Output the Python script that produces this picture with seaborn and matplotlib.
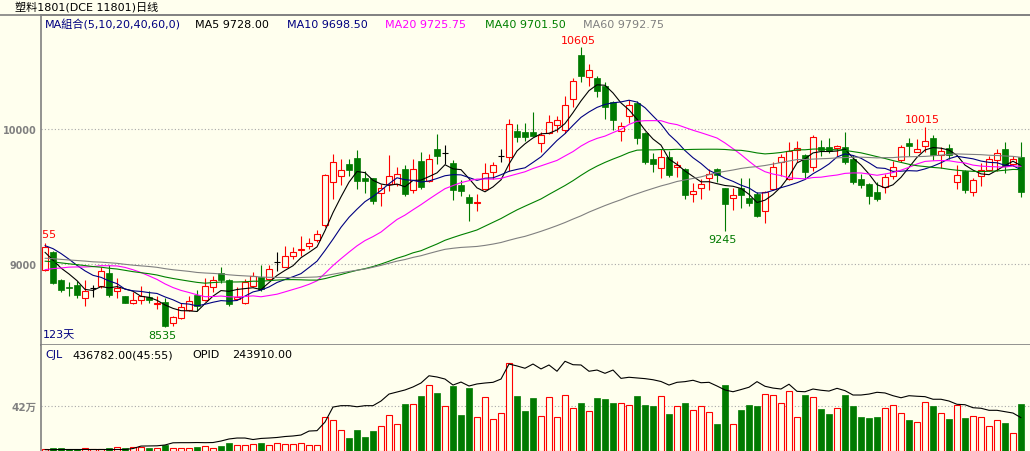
import numpy as np
import pandas as pd
import matplotlib
matplotlib.use("Agg")
import matplotlib.pyplot as plt
from matplotlib.lines import Line2D
import seaborn as sns

# ---------------- data ----------------
opens = [8956, 9086, 8882, 8827, 8845, 8748, 8820, 8835, 8931, 8800,
         8761, 8714, 8731, 8753, 8703, 8716, 8563, 8598, 8662, 8770,
         8733, 8827, 8933, 8882, 8741, 8709, 8835, 8901, 8889, 9017,
         8980, 9057, 9106, 9131, 9178, 9289, 9605, 9654, 9738, 9783,
         9637, 9634, 9523, 9592, 9592, 9703, 9545, 9763, 9615, 9852,
         9820, 9748, 9585, 9499, 9449, 9555, 9679, 9802, 9790, 9983,
         9980, 9980, 9894, 9968, 10032, 9995, 10222, 10548, 10383, 10378,
         10316, 10198, 9988, 10094, 10193, 9971, 9778, 9709, 9793, 9716,
         9704, 9516, 9566, 9637, 9704, 9561, 9487, 9561, 9489, 9516,
         9391, 9556, 9758, 9629, 9847, 9807, 9716, 9864, 9864, 9857,
         9864, 9778, 9629, 9592, 9531, 9568, 9654, 9770, 9896, 9832,
         9876, 9931, 9807, 9857, 9605, 9691, 9531, 9649, 9699, 9773,
         9852, 9741, 9790]
closes = [9123, 8857, 8810, 8820, 8773, 8798, 8820, 8951, 8773, 8820,
          8714, 8733, 8763, 8736, 8709, 8543, 8605, 8679, 8728, 8686,
          8835, 8882, 8884, 8701, 8753, 8869, 8914, 8815, 8960, 9017,
          9057, 9086, 9113, 9155, 9222, 9659, 9753, 9696, 9699, 9617,
          9617, 9469, 9560, 9649, 9664, 9518, 9703, 9573, 9778, 9802,
          9820, 9550, 9543, 9449, 9457, 9674, 9733, 9802, 10034, 9943,
          9938, 9950, 9955, 10054, 10064, 10178, 10353, 10390, 10435, 10279,
          10161, 10069, 10020, 10178, 9931, 9758, 9741, 9793, 9662, 9734,
          9514, 9539, 9593, 9667, 9662, 9445, 9511, 9511, 9452, 9358,
          9531, 9719, 9795, 9839, 9857, 9684, 9938, 9847, 9839, 9876,
          9758, 9605, 9587, 9506, 9481, 9642, 9716, 9864, 9876, 9852,
          9913, 9807, 9839, 9807, 9659, 9550, 9622, 9699, 9778, 9822,
          9728, 9778, 9534]
highs = [9155, 9099, 8889, 8864, 8877, 8882, 8847, 8975, 8995, 8894,
         8766, 8795, 8835, 8798, 8765, 8748, 8617, 8711, 8761, 8807,
         8899, 8909, 8975, 8889, 8832, 8889, 8938, 8993, 8995, 9086,
         9131, 9123, 9210, 9190, 9252, 9665, 9815, 9778, 9778, 9847,
         9691, 9640, 9592, 9807, 9716, 9733, 9778, 9832, 9815, 9963,
         9881, 9770, 9622, 9518, 9518, 9748, 9753, 9852, 10074, 10037,
         10042, 10123, 9975, 10103, 10099, 10247, 10376, 10605, 10482, 10395,
         10346, 10210, 10050, 10215, 10210, 9976, 9823, 9852, 9840, 9766,
         9709, 9600, 9630, 9704, 9709, 9565, 9561, 9635, 9635, 9531,
         9544, 9758, 9815, 9901, 9913, 9812, 9955, 9921, 9931, 9881,
         9980, 9807, 9666, 9597, 9605, 9666, 9765, 9881, 9931, 9926,
         10015, 9955, 9864, 9889, 9733, 9696, 9634, 9748, 9797, 9852,
         9906, 9797, 9901]
lows = [8948, 8852, 8795, 8765, 8748, 8691, 8753, 8820, 8753, 8746,
        8709, 8701, 8704, 8709, 8667, 8535, 8543, 8593, 8654, 8654,
        8728, 8790, 8859, 8691, 8736, 8704, 8827, 8803, 8884, 8951,
        8975, 9037, 9062, 9111, 9160, 9271, 9481, 9585, 9654, 9555,
        9526, 9444, 9427, 9543, 9575, 9501, 9526, 9555, 9605, 9741,
        9741, 9476, 9506, 9321, 9395, 9550, 9629, 9753, 9691, 9906,
        9913, 9945, 9827, 9963, 9975, 9971, 10161, 10346, 10321, 10235,
        10074, 9995, 9914, 10045, 9889, 9741, 9684, 9635, 9642, 9642,
        9482, 9462, 9482, 9551, 9610, 9245, 9400, 9418, 9427, 9351,
        9302, 9551, 9655, 9625, 9753, 9629, 9691, 9802, 9822, 9802,
        9741, 9592, 9560, 9444, 9469, 9523, 9629, 9753, 9797, 9827,
        9827, 9773, 9708, 9778, 9555, 9526, 9501, 9575, 9691, 9691,
        9674, 9728, 9494]
# closes before the visible window (estimated from where the MA lines start)
prior_closes = [9050, 9120, 9080, 9010, 9060, 9140, 9100, 9030, 9090, 9150,
                9110, 9070, 9020, 9080, 9130, 9090, 9040, 9100, 9160, 9080,
                9060, 9120, 9090, 9030, 9070, 9110, 9140, 9080, 9050, 9100,
                9130, 9070, 9040, 9090, 9120, 9060, 9080, 9110, 9050, 9080,
                8700, 8720, 8690, 8750, 8800, 8760, 8820, 8780, 8850, 8930,
                9080, 9170, 9240, 9230, 9205, 9150, 9100, 9040, 9020]
volumes = [19000, 28000, 25000, 19000, 19000, 28000, 16000, 22000, 25000, 35000,
           28000, 37000, 35000, 28000, 25000, 56000, 25000, 25000, 25000, 37000,
           50000, 28000, 47000, 72000, 53000, 53000, 63000, 72000, 53000, 77000,
           63000, 63000, 72000, 53000, 53000, 315000, 289000, 196000, 121000, 196000,
           131000, 187000, 231000, 333000, 249000, 439000, 436000, 513000, 613000, 541000,
           417000, 607000, 336000, 588000, 315000, 501000, 296000, 355000, 819000, 513000,
           373000, 495000, 324000, 501000, 315000, 520000, 399000, 448000, 373000, 495000,
           485000, 448000, 445000, 427000, 513000, 429000, 420000, 511000, 345000, 417000,
           448000, 380000, 417000, 361000, 252000, 616000, 249000, 383000, 429000, 420000,
           529000, 520000, 445000, 557000, 315000, 523000, 501000, 392000, 345000, 399000,
           523000, 420000, 317000, 308000, 317000, 399000, 427000, 352000, 289000, 268000,
           455000, 420000, 352000, 299000, 427000, 308000, 324000, 315000, 231000, 287000,
           261000, 165000, 436782]
open_interest = [10000, 10000, 11000, 11000, 11000, 11000, 11000, 11000, 11000, 11000,
                 11000, 18000, 36000, 37000, 38000, 44000, 60000, 61000, 61000, 62000,
                 61000, 62000, 73000, 88000, 95000, 95000, 84000, 92000, 95000, 99000,
                 106000, 110000, 117000, 146000, 149000, 212000, 322000, 332000, 332000, 324000,
                 332000, 332000, 366000, 417000, 432000, 447000, 469000, 498000, 551000, 542000,
                 527000, 483000, 505000, 476000, 491000, 498000, 503000, 527000, 637000, 623000,
                 606000, 637000, 601000, 630000, 584000, 657000, 632000, 630000, 584000, 593000,
                 569000, 593000, 532000, 540000, 535000, 530000, 522000, 509000, 483000, 503000,
                 508000, 518000, 500000, 503000, 476000, 447000, 434000, 450000, 467000, 508000,
                 474000, 461000, 454000, 489000, 437000, 434000, 454000, 445000, 439000, 459000,
                 442000, 410000, 410000, 417000, 430000, 425000, 405000, 390000, 405000, 401000,
                 398000, 379000, 379000, 366000, 342000, 339000, 317000, 313000, 298000, 298000,
                 288000, 278000, 243910]
ma_periods = [5, 10, 20, 40, 60]
ma_last_values = [9728.00, 9698.50, 9725.75, 9701.50, 9792.75]
price_ticks = [9000, 10000]
price_tick_labels = ["9000", "10000"]
vol_ticks = [420000]
vol_tick_labels = ["42万"]
title = "塑料1801(DCE 11801)日线"
vol_ratio = "(45:55)"

# ---------------- style ----------------
sns.set_style("white")
FONTS = ["DejaVu Sans", "Noto Sans CJK SC"]
plt.rcParams["font.family"] = FONTS

W, H = 1030, 452
BG = "#FFFFEE"
RED = "#FF0000"
GREEN = "#007A00"
NAVY = "#000080"
MAG = "#FF00FF"
GRAY = "#808080"
ma_colors = ["#000000", NAVY, MAG, "#008000", GRAY]

n = len(closes)
idx = np.arange(n)
o = np.array(opens, float)
c = np.array(closes, float)
h = np.array(highs, float)
l = np.array(lows, float)
vol = np.array(volumes, float)
oi = np.array(open_interest, float)

full = pd.Series(list(prior_closes) + list(closes), dtype=float)
ma = pd.DataFrame({"idx": idx})
for p in ma_periods:
    ma[f"MA{p}"] = full.rolling(p).mean().iloc[-n:].to_numpy()

fig = plt.figure(figsize=(W / 100, H / 100), dpi=100, facecolor=BG)
ax = fig.add_axes([41 / W, 106 / H, 989 / W, 330 / H], facecolor=BG)
axv = fig.add_axes([41 / W, 0, 989 / W, 106 / H], facecolor=BG)

xlim = (-0.5, n + 0.125)
BW = 0.8
LW = 0.8

# ---------------- candles ----------------
up = c > o
down = c < o
flat = c == o
ax.vlines(idx[up], l[up], h[up], color=RED, lw=LW, zorder=2)
ax.vlines(idx[down], l[down], h[down], color=GREEN, lw=LW, zorder=2)
ax.vlines(idx[flat], l[flat], h[flat], color="black", lw=LW, zorder=2)
ax.bar(idx[up], c[up] - o[up], bottom=o[up], width=BW, facecolor=BG,
       edgecolor=RED, linewidth=LW, zorder=3)
ax.bar(idx[down], o[down] - c[down], bottom=c[down], width=BW, facecolor=GREEN,
       edgecolor=GREEN, linewidth=0.5, zorder=3)
ax.hlines(o[flat], idx[flat] - BW / 2, idx[flat] + BW / 2, color="black", lw=LW, zorder=3)

for p, col in zip(ma_periods, ma_colors):
    sns.lineplot(data=ma, x="idx", y=f"MA{p}", ax=ax, color=col, lw=0.8,
                 zorder=4, legend=False)

ax.set_xlim(*xlim)
ax.set_ylim(8400, 10844)
ax.set_xticks([])
ax.set_yticks(price_ticks)
ax.set_yticklabels(price_tick_labels, color=GRAY, fontsize=7, fontweight="bold")
ax.tick_params(axis="y", length=0, pad=3)
ax.grid(axis="y", color="#A8A8A8", linestyle=(0, (1, 2)), lw=0.8)
ax.set_xlabel("")
ax.set_ylabel("")
for s in ["left", "top", "bottom"]:
    ax.spines[s].set_color(GRAY)
    ax.spines[s].set_linewidth(1.2)
ax.spines["right"].set_visible(False)

# extreme labels
def lab(i, hi, dy):
    val = h[i] if hi else l[i]
    ax.annotate(f"{val:.0f}", xy=(i, val), xytext=(-3, dy), textcoords="offset pixels",
                ha="center", va="bottom" if hi else "top", color=RED if hi else GREEN,
                fontsize=8, clip_on=True, zorder=6)

lab(int(np.argmax(h)), True, 2)
lab(int(np.argmin(l)), False, -3)
lab(75 + int(np.argmin(l[75:100])), False, -3)
lab(95 + int(np.argmax(h[95:])), True, 3)
lab(int(np.argmax(h[:10])), True, 4)

ax.text(2 / 989, 11 / 330, f"{n}天", transform=ax.transAxes, color=NAVY,
        fontsize=8, va="center", ha="left", family=FONTS)

# ---------------- volume panel ----------------
vup = c >= o
axv.bar(idx[vup], vol[vup], width=BW, facecolor=BG, edgecolor=RED, linewidth=LW, zorder=2)
axv.bar(idx[~vup], vol[~vup], width=BW, facecolor=GREEN, edgecolor=GREEN,
        linewidth=0.5, zorder=2)
axv.set_xlim(*xlim)
axv.set_ylim(0, 106 * 9333)
axv.set_xticks([])
axv.set_yticks(vol_ticks)
axv.set_yticklabels(vol_tick_labels, color=GRAY, fontsize=7.5, fontweight="bold",
                    family=FONTS)
axv.tick_params(axis="y", length=0, pad=3)
axv.grid(axis="y", color="#A8A8A8", linestyle=(0, (1, 2)), lw=0.8)
for s in ["top", "bottom", "right"]:
    axv.spines[s].set_visible(False)
axv.spines["left"].set_color(GRAY)
axv.spines["left"].set_linewidth(1.2)

axo = axv.twinx()
sns.lineplot(x=idx, y=oi, ax=axo, color="black", lw=0.8, zorder=5)
axo.set_xlim(*xlim)
axo.set_ylim(0, 106 * 7324)
axo.axis("off")

# ---------------- header texts ----------------
def ft(x, y, s, col, **kw):
    fig.text(x / W, 1 - y / H, s, color=col, fontsize=8, va="center", ha="left",
             family=FONTS, **kw)

fig.add_artist(Line2D([0, 1], [1 - 16 / H, 1 - 16 / H], color=GRAY, lw=1.2,
                      transform=fig.transFigure))
ft(15, 7, title, "black")
ft(45, 25, "MA組合(" + ",".join(str(p) for p in ma_periods) + ",0)", NAVY)
leg_x = [195, 287, 385, 485, 583]
for p, v, col, x in zip(ma_periods, ma_last_values, ma_colors, leg_x):
    ft(x, 25, f"MA{p} {v:.2f}", col)

ft(45, 355, "CJL", NAVY)
ft(72, 355, f"{vol[-1]:.2f}{vol_ratio}", "black")
ft(192, 355, "OPID", "black")
ft(232, 355, f"{oi[-1]:.2f}", "black")

fig.savefig("out.png", dpi=100, facecolor=BG)
